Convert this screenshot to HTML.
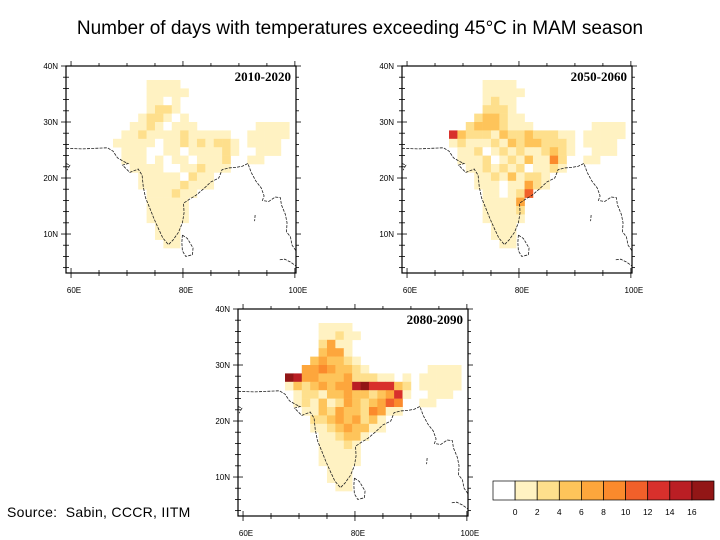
<!DOCTYPE html>
<html><head><meta charset="utf-8">
<style>
body{margin:0;background:#fff;width:720px;height:540px;overflow:hidden;font-family:"Liberation Sans",sans-serif}
#title{position:absolute;left:0;width:720px;top:18px;text-align:center;font-size:19px;color:#000;font-family:"Liberation Sans",sans-serif}
#src{position:absolute;left:7px;top:504px;font-size:14px;letter-spacing:0.3px}
svg{position:absolute;left:0;top:0}
</style></head><body>
<div id="title">Number of days with temperatures exceeding 45°C in MAM season</div>
<div id="src">Source:&nbsp; Sabin, CCCR, IITM</div>
<svg id="svg" width="720" height="540"></svg>
<script>
const periods=["2010-2020","2050-2060","2080-2090"];
const legendTicks=["0","2","4","6","8","10","12","14","16"];
const classColors=["#ffffff","#fff2c2","#fedf8c","#fec45a","#fda63c","#fb8a2c","#f1602a","#d8302c","#ba1e24","#921616"];
const gridLon0=67.5, gridLat0=37.5, gridStep=1.5;
const map1=["....1111.............","....11111............","....1101.............","....1221.............","...122101............","..11210111.......1111",".1121111211111..11111","111110112121221.1111.",".11100110111121..111.",".1110101101112..11...","..111100112111.......","...111110211.........","...111112111.........","....111211...........","....11111............","....11111............","....11111............",".....111.............",".....111.............","......11............."];
const map2=["....1111.............","....11111............","....1211.............","....2221.............","...233211............","..23332111.......1111","732221322322211.11111","121112132332221.1111.",".11201212112321..111.",".1112012131152..11...","..112121201121.......","...112131221.........","...111011421.........","....110126...........","....11114............","....11112............","....11111............",".....111.............",".....111.............","......11............."];
const map3=["....1111.............","....11211............","....2411.............","....3441.............","...343321............","..44543321.......1111","9844333422211.1.11111","132343448977732.11111",".12213343323471..111.",".1213124323465..11...","..113243325411.......","...223434231.........","...112343311.........","....112331...........","....11121............","....11111............","....11111............",".....111.............",".....111.............","......11............."];
const coast=[[59.1,25.3],[62,25.2],[66.5,25.4],[67.5,24.8],[68.3,23.6],[69.5,22.9],[70.2,22.6],[69.2,22.3],[70.5,21],[72,21.6],[72.7,20.5],[72.9,18.5],[73.3,16.5],[74,14.8],[74.8,12.8],[75.6,11],[76.4,9.3],[77.4,8.1],[78.2,8.9],[79.2,10.3],[79.9,12],[80.2,13.8],[80.1,15.5],[81.3,16.3],[82.3,16.9],[83.6,18],[85,19.3],[86.4,20],[87,21.5],[88.2,21.8],[89.5,21.9],[90.6,22.1],[91.6,22.6],[92.2,21],[93,19.5],[94,18.2],[94.5,16.8],[94.2,16],[95.3,15.8],[96.5,16.6],[97.4,16.5],[97.6,15.2],[98.3,13.5],[98.6,12],[98.5,10.4],[99.2,9.5],[99.5,8],[100.2,7]];
const lanka=[[79.9,9.8],[80.8,9.2],[81.8,7.5],[81.7,6.3],[80.5,6],[79.9,7],[79.8,8.5],[79.9,9.8]];
const malay=[[97.3,5.4],[98.2,5.5],[99.2,5],[100.2,4.3]];
const andaman=[[92.9,13.4],[92.8,12.3]];
const pakleft=[[59.1,22.6],[59.8,22.3],[59.3,21.4]];
const frames=[[66,66],[402,66],[238,309]];
const maps=[map1,map2,map3];
const NS="http://www.w3.org/2000/svg";
const svg=document.getElementById('svg');
function mk(t,a,p){const e=document.createElementNS(NS,t);for(const k in a)e.setAttribute(k,a[k]);(p||svg).appendChild(e);return e;}
const W=230,H=207,lonMin=59.1,lonMax=100.2,latMax=40,latMin=3.04;
frames.forEach((f,mi)=>{
  const g=mk('g',{});
  
  
  const X=lon=>f[0]+(lon-lonMin)/(lonMax-lonMin)*W;
  const Y=lat=>f[1]+(latMax-lat)/(latMax-latMin)*H;
  const data=maps[mi];
  data.forEach((row,r)=>{
    for(let c=0;c<row.length;c++){
      const ch=row[c]; if(ch==='.')continue;
      const lo=gridLon0+c*gridStep, la=gridLat0-r*gridStep;
      const x1=X(lo),x2=X(lo+gridStep),y1=Y(la),y2=Y(la-gridStep);
      const cell=mk('rect',{x:x1,y:y1,width:x2-x1+0.3,height:y2-y1+0.3,fill:classColors[+ch]},g);
      
      
    }
  });
  [coast,lanka,malay,andaman,pakleft].forEach(line=>{
    const p=mk('polyline',{points:line.map(q=>X(q[0])+','+Y(q[1])).join(' '),fill:'none',stroke:'#222','stroke-width':0.8,'stroke-dasharray':'3,1.2'},g);
    
    
  });
  const fr=mk('rect',{x:f[0],y:f[1],width:W,height:H,fill:'none',stroke:'#000','stroke-width':1.2},g);
  
  
  for(let la=4;la<=40;la+=2){
    const y=Y(la),maj=la%10===0,len=maj?5:3;
    mk('line',{x1:f[0]-len,x2:f[0],y1:y,y2:y,stroke:'#000','stroke-width':0.8},g);
    mk('line',{x1:f[0]+W,x2:f[0]+W+len,y1:y,y2:y,stroke:'#000','stroke-width':0.8},g);
    mk('line',{x1:f[0],x2:f[0]+len,y1:y,y2:y,stroke:'#000','stroke-width':0.8},g);
    if(maj){const t=mk('text',{x:f[0]-8,y:y+3,'font-size':8,'text-anchor':'end'},g);t.textContent=la+'N';
      }
  }
  for(let lo=60;lo<=100;lo+=5){
    const x=X(lo),maj=lo%20===0,len=maj?5:3;
    mk('line',{x1:x,x2:x,y1:f[1]+H,y2:f[1]+H+len,stroke:'#000','stroke-width':0.8},g);
    mk('line',{x1:x,x2:x,y1:f[1]-len,y2:f[1],stroke:'#000','stroke-width':0.8},g);
    mk('line',{x1:x,x2:x,y1:f[1]+H-len,y2:f[1]+H,stroke:'#000','stroke-width':0.8},g);
    if(maj){const t=mk('text',{x:x+3,y:f[1]+H+20,'font-size':8,'text-anchor':'middle'},g);t.textContent=lo+'E';
      }
  }
  const lb=mk('text',{x:f[0]+W-5,y:f[1]+15,'font-size':13,'font-weight':'bold','text-anchor':'end','font-family':'Liberation Serif, serif'},g);
  lb.textContent=periods[mi];
  
  
});
const lg=mk('g',{});


const bx=493,bw=22.1,by=481,bh=19;
classColors.forEach((c,i)=>{
  const r=mk('rect',{x:bx+i*bw,y:by,width:bw,height:bh,fill:c,stroke:'#000','stroke-width':0.7},lg);
  
  
});
legendTicks.forEach((s,i)=>{
  const t=mk('text',{x:bx+(i+1)*bw,y:by+bh+15,'font-size':8.5,'text-anchor':'middle'},lg);
  t.textContent=s;
  
  
});
</script>
</body></html>
